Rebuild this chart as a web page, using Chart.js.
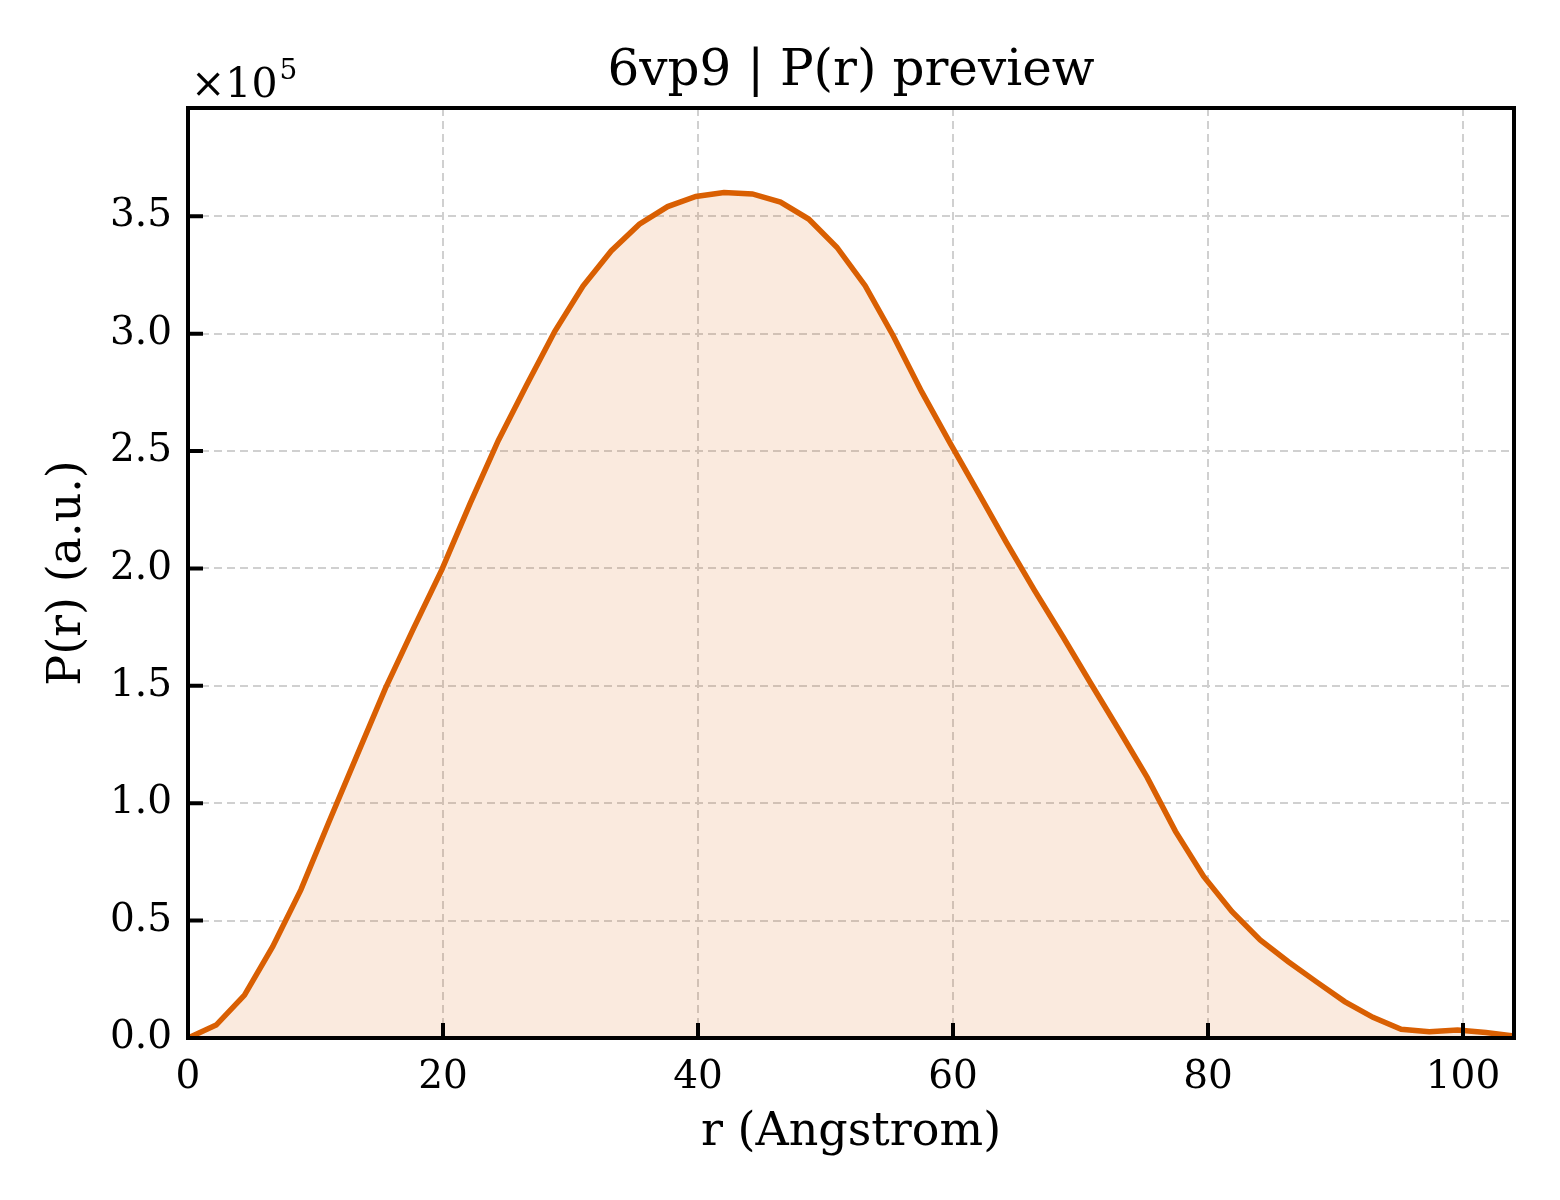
<!DOCTYPE html>
<html>
<head>
<meta charset="utf-8">
<title>6vp9 | P(r) preview</title>
<script src="https://cdn.jsdelivr.net/npm/chart.js@4.4.1/dist/chart.umd.min.js"></script>
<style>
  html, body { margin: 0; padding: 0; background: #ffffff; }
  #chart { display: block; }
</style>
</head>
<body>
<canvas id="chart" width="1560" height="1200"></canvas>
<script>
/* ---------------------------------------------------------------- */
/* data */
var rValues = [0, 2.21, 4.43, 6.64, 8.85, 11.06, 13.28, 15.49, 17.70, 19.91,
    22.13, 24.34, 26.55, 28.77, 30.98, 33.19, 35.40, 37.62, 39.83, 42.04,
    44.26, 46.47, 48.68, 50.89, 53.11, 55.32, 57.53, 59.74, 61.96, 64.17,
    66.38, 68.60, 70.81, 73.02, 75.23, 77.45, 79.66, 81.87, 84.09, 86.30,
    88.51, 90.72, 92.94, 95.15, 97.36, 99.57, 101.79, 104.00];
var prValues = [0, 5500, 18300, 38900, 63100, 92100, 120700, 149000, 174600, 199500,
    227700, 254500, 278000, 301000, 320300, 335200, 346600, 354100, 358400, 360100,
    359500, 356000, 348800, 336800, 320400, 299000, 275400, 253700, 232500, 211200,
    190800, 171100, 151000, 131200, 111000, 88000, 68800, 53900, 41800, 32500,
    23900, 15500, 8800, 3700, 2700, 3400, 2300, 800];

var xTicks = [0, 20, 40, 60, 80, 100];
var yTicks = [0, 50000, 100000, 150000, 200000, 250000, 300000, 350000];
var xMax = 104;
var yMax = 396100;
var titleText = '6vp9 | P(r) preview';
var xLabel = 'r (Angstrom)';
var yLabel = 'P(r) (a.u.)';

/* ---------------------------------------------------------------- */
var serif = '"DejaVu Serif", "Liberation Serif", serif';
var lineColor = '#d95f02';
var gridColor = '#d0d0d0';

/* 標題、外框、朝內的刻度、×10^5 */
var frameAndTicks = {
    id: 'frameAndTicks',
    afterDatasetsDraw(chart) {
        var ctx = chart.ctx;
        var a = chart.chartArea;
        var xs = chart.scales.x, ys = chart.scales.y;
        ctx.save();
        ctx.strokeStyle = '#000';
        ctx.lineWidth = 4;
        ctx.beginPath();
        xs.ticks.forEach(t => {
            var px = xs.getPixelForValue(t.value);
            ctx.moveTo(px, a.bottom);
            ctx.lineTo(px, a.bottom - 15);
        });
        ys.ticks.forEach(t => {
            var py = ys.getPixelForValue(t.value);
            ctx.moveTo(a.left, py);
            ctx.lineTo(a.left + 15, py);
        });
        ctx.stroke();
        ctx.strokeRect(a.left, a.top, a.right - a.left, a.bottom - a.top);

        ctx.fillStyle = '#000';
        // title, centred on the plot area
        ctx.textAlign = 'center';
        ctx.textBaseline = 'alphabetic';
        ctx.font = '50px ' + serif;
        ctx.fillText(titleText, (a.left + a.right) / 2, 85);

        // offset text
        ctx.textAlign = 'left';
        ctx.font = '41px ' + serif;
        ctx.fillText('×10', a.left + 3, a.top - 11);
        var w = ctx.measureText('×10').width;
        ctx.font = '28px ' + serif;
        ctx.fillText('5', a.left + 5 + w, a.top - 29);
        ctx.restore();
    }
};

var ctx = document.getElementById('chart').getContext('2d');
var chart = new Chart(ctx, {
    type: 'line',
    data: {
        datasets: [{
            data: rValues.map((r, i) => ({ x: r, y: prValues[i] })),
            borderColor: lineColor,
            borderWidth: 5.5,
            backgroundColor: 'rgba(217, 95, 2, 0.13)',
            fill: 'origin',
            pointRadius: 0,
            tension: 0
        }]
    },
    options: {
        responsive: false,
        animation: false,
        devicePixelRatio: 1,
        layout: { padding: { left: 0, right: 46, top: 108, bottom: 0 } },
        plugins: {
            legend: { display: false },
            tooltip: { enabled: false },
            title: { display: false }
        },
        scales: {
            x: {
                type: 'linear',
                min: 0,
                max: xMax,
                afterBuildTicks: s => { s.ticks = xTicks.map(v => ({ value: v })); },
                afterFit: s => { s.height = 162; },
                ticks: {
                    color: '#000',
                    padding: 16,
                    maxRotation: 0,
                    autoSkip: false,
                    font: { family: serif, size: 39 }
                },
                grid: { color: gridColor, lineWidth: 2, drawTicks: false },
                border: { display: false, dash: [8, 5] },
                title: {
                    display: true,
                    text: xLabel,
                    color: '#000',
                    font: { family: serif, size: 46 },
                    padding: { top: 0, bottom: 39 }
                }
            },
            y: {
                type: 'linear',
                min: 0,
                max: yMax,
                afterBuildTicks: s => { s.ticks = yTicks.map(v => ({ value: v })); },
                afterFit: s => { s.width = 188; },
                ticks: {
                    color: '#000',
                    padding: 16,
                    autoSkip: false,
                    font: { family: serif, size: 39 },
                    callback: v => (v / 1e5).toFixed(1)
                },
                grid: { color: gridColor, lineWidth: 2, drawTicks: false },
                border: { display: false, dash: [8, 5] },
                title: {
                    display: true,
                    text: yLabel,
                    color: '#000',
                    font: { family: serif, size: 46 },
                    padding: { top: 40, bottom: 0 }
                }
            }
        }
    },
    plugins: [frameAndTicks]
});
</script>
</body>
</html>
